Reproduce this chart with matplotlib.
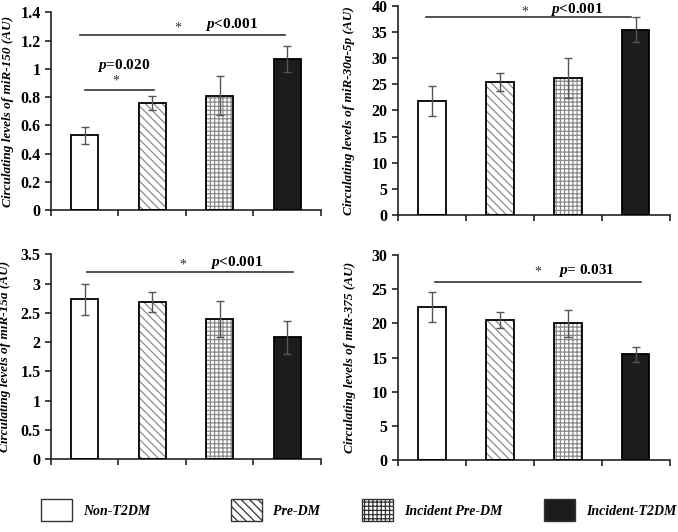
import matplotlib
matplotlib.use("Agg")
import matplotlib.pyplot as plt
from matplotlib.patches import Patch
from matplotlib.ticker import FormatStrFormatter, MultipleLocator

# DATA
groups = ['Non-T2DM', 'Pre-DM', 'Incident Pre-DM', 'Incident-T2DM']

mir150 = [0.53, 0.76, 0.81, 1.07]
mir150_err = [0.06, 0.05, 0.14, 0.09]
mir30a = [21.8, 25.5, 26.2, 35.4]
mir30a_err = [2.9, 1.7, 3.9, 2.4]
mir15a = [2.73, 2.69, 2.40, 2.08]
mir15a_err = [0.27, 0.17, 0.31, 0.28]
mir375 = [22.4, 20.5, 20.0, 15.5]
mir375_err = [2.2, 1.2, 2.0, 1.1]

hatch_col = '#8a8a8a'
plt.rcParams['font.family'] = ['Liberation Serif', 'DejaVu Serif']
plt.rcParams['mathtext.fontset'] = 'custom'
plt.rcParams['mathtext.rm'] = 'Liberation Serif'
plt.rcParams['mathtext.it'] = 'Liberation Serif:italic'
plt.rcParams['mathtext.bf'] = 'Liberation Serif:bold'
plt.rcParams['mathtext.bfit'] = 'Liberation Serif:italic:bold'
plt.rcParams['hatch.linewidth'] = 0.9
plt.rcParams['hatch.color'] = hatch_col

faces = ['white', 'white', 'white', '#1c1c1c']
hatches = [None, '\\\\\\\\', '++++', None]

# (values, errors, name, ymax, step, axes position, ylabel x, significance marks)
panels = [
    (mir150, mir150_err, 'miR-150', 1.4, 0.2, [0.0752, 0.605, 0.398, 0.372], -0.137,
     [((0.43, 3.47), 1.237, (1.88, 1.29), (2.28, 1.31), r'$\mathbfit{p}$<0.001'),
      ((0.50, 1.53), 0.85, (0.96, 0.912), (0.68, 1.022), r'$\mathbfit{p}$=0.020')]),
    (mir30a, mir30a_err, 'miR-30a-5p', 40, 5, [0.587, 0.596, 0.401, 0.393], -0.158,
     [((0.41, 3.43), 37.8, (1.87, 38.9), (2.24, 39.3), r'$\mathbfit{p}$<0.001')]),
    (mir15a, mir15a_err, 'miR-15a', 3.5, 0.5, [0.0752, 0.137, 0.398, 0.385], -0.148,
     [((0.53, 3.59), 3.2, (1.96, 3.31), (2.36, 3.36), r'$\mathbfit{p}$<0.001')]),
    (mir375, mir375_err, 'miR-375', 30, 5, [0.587, 0.1353, 0.401, 0.385], -0.154,
     [((0.54, 3.57), 26.1, (2.06, 27.5), (2.35, 27.8), r'$\mathbfit{p}$= 0.031')]),
]

fig = plt.figure(figsize=(6.78, 5.32), dpi=100)

for vals, errs, name, ymax, step, pos, lx, sigs in panels:
    ax = fig.add_axes(pos)
    x = [i + 0.5 for i in range(len(vals))]
    # fill + hatch in grey, then black outline on top
    ax.bar(x, vals, width=0.4, color=faces, edgecolor=hatch_col, linewidth=0,
           hatch=hatches, zorder=2)
    ax.bar(x, vals, width=0.4, fill=False, edgecolor='black', linewidth=1.3, zorder=3)
    ax.errorbar(x, vals, yerr=errs, fmt='none', ecolor='#555555', elinewidth=1,
                capsize=3, capthick=1, zorder=4)
    ax.set_xlim(0, 4)
    ax.set_ylim(0, ymax)
    ax.set_xticks(range(5))
    ax.set_xticklabels([])
    ax.yaxis.set_major_locator(MultipleLocator(step))
    ax.yaxis.set_major_formatter(FormatStrFormatter('%g'))
    ax.tick_params(axis='both', direction='out', length=4, width=1.2, colors='#222222')
    for lbl in ax.get_yticklabels():
        lbl.set_fontweight('bold')
        lbl.set_fontsize(11.5)
        lbl.set_color('black')
    for s in ['top', 'right']:
        ax.spines[s].set_visible(False)
    for s in ['left', 'bottom']:
        ax.spines[s].set_linewidth(1.2)
        ax.spines[s].set_color('#222222')
    ax.set_ylabel('Circulating levels of %s (AU)' % name, fontsize=9.5,
                  fontstyle='italic', fontweight='bold')
    ax.yaxis.set_label_coords(lx, 0.5)
    for (x0, x1), ly, (sx, sy), (tx, ty), txt in sigs:
        ax.plot([x0, x1], [ly, ly], color='#333333', lw=1.2, clip_on=False, zorder=5)
        ax.text(sx, sy, '*', ha='center', va='center', fontsize=10, color='#333333')
        ax.text(tx, ty, txt, ha='left', va='center', fontsize=11, fontweight='bold',
                clip_on=False)

# legend, one entry per block
leg_x = [0.0605, 0.3407, 0.534, 0.803]
for g, fc, h, lx in zip(groups, faces, hatches, leg_x):
    handle = Patch(facecolor=fc, edgecolor='#333333', hatch=h, linewidth=1.0)
    fig.legend([handle], [g], loc='center left', bbox_to_anchor=(lx, 0.041),
               frameon=False, handlelength=2.2, handleheight=2.1,
               handletextpad=0.8, borderpad=0, borderaxespad=0,
               prop={'family': 'Liberation Serif', 'style': 'italic',
                     'weight': 'bold', 'size': 10})

fig.savefig('out.png', dpi=100)
